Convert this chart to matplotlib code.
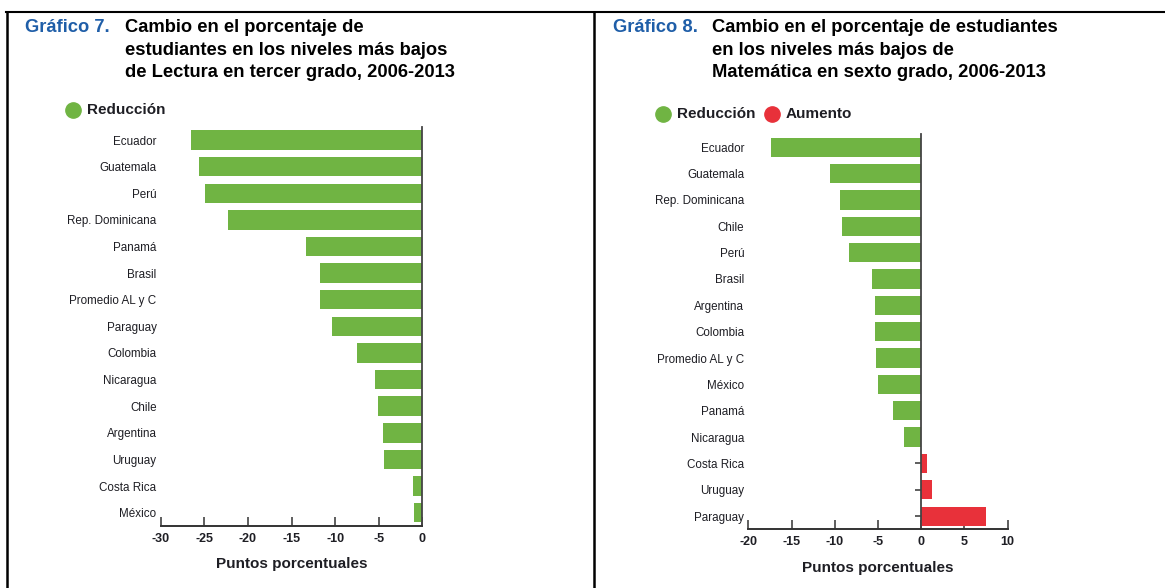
import numpy as np
import matplotlib
matplotlib.use('Agg')
import matplotlib.pyplot as plt
from matplotlib.lines import Line2D

# datos
lectura_paises = ['Ecuador', 'Guatemala', 'Perú', 'Rep. Dominicana', 'Panamá', 'Brasil',
                  'Promedio AL y C', 'Paraguay', 'Colombia', 'Nicaragua', 'Chile',
                  'Argentina', 'Uruguay', 'Costa Rica', 'México']
lectura_valores = [-26.5, -25.6, -24.9, -22.3, -13.3, -11.7, -11.7, -10.4, -7.5,
                   -5.4, -5.1, -4.5, -4.4, -1.1, -1.0]

mate_paises = ['Ecuador', 'Guatemala', 'Rep. Dominicana', 'Chile', 'Perú', 'Brasil',
               'Argentina', 'Colombia', 'Promedio AL y C', 'México', 'Panamá',
               'Nicaragua', 'Costa Rica', 'Uruguay', 'Paraguay']
mate_valores = [-17.4, -10.5, -9.4, -9.2, -8.4, -5.7, -5.4, -5.3, -5.2, -5.0,
                -3.3, -2.0, 0.7, 1.2, 7.5]

lectura_ticks = [-30, -25, -20, -15, -10, -5, 0]
mate_ticks = [-20, -15, -10, -5, 0, 5, 10]

titulo7 = ['Cambio en el porcentaje de',
           'estudiantes en los niveles más bajos',
           'de Lectura en tercer grado, 2006-2013']
titulo8 = ['Cambio en el porcentaje de estudiantes',
           'en los niveles más bajos de',
           'Matemática en sexto grado, 2006-2013']

VERDE = '#70b443'
ROJO = '#e8313a'
AZUL = '#1f5ea8'
TEXTO = '#1e1e24'

W, H = 1165, 588
plt.rcParams['font.family'] = ['Liberation Sans', 'DejaVu Sans']

fig = plt.figure(figsize=(W / 100, H / 100), dpi=100)


def px(x, y):
    # pixeles (desde arriba a la izquierda) -> coordenadas de figura
    return x / W, 1 - y / H


def barras(rect, paises, valores, xlim, ticks):
    ax = fig.add_axes(rect)
    ax.set_axisbelow(True)
    y = np.arange(len(paises))
    colores = [VERDE if v < 0 else ROJO for v in valores]
    ax.barh(y, valores, height=0.73, color=colores, zorder=1)
    ax.set_ylim(len(paises) - 0.5, -0.5)
    ax.set_xlim(*xlim)
    # primero tick_params, si no se pierden las fuentes de las etiquetas
    ax.tick_params(axis='x', direction='in', length=6.5, width=1.1, color='#333333', pad=5,
                   labelsize=9, labelcolor=TEXTO)
    ax.tick_params(axis='y', direction='in', left=False, right=True, labelleft=True,
                   labelright=False, length=4.5, width=1.1, color='#333333', pad=3,
                   labelsize=8.4, labelcolor=TEXTO)
    ax.set_yticks(y)
    labs = ax.set_yticklabels(paises, fontsize=8.4, color=TEXTO)
    for lab, p in zip(labs, paises):
        if p == 'Perú':
            lab.set_fontweight('bold')
    ax.set_xticks(ticks)
    ax.set_xticklabels([str(t) for t in ticks], fontsize=9, fontweight='bold', color=TEXTO)
    ax.spines['top'].set_visible(False)
    ax.spines['left'].set_visible(False)
    ax.spines['right'].set_position(('data', 0))
    ax.spines['right'].set_color('#444444')
    ax.spines['right'].set_linewidth(1.3)
    ax.spines['bottom'].set_color('#333333')
    ax.spines['bottom'].set_linewidth(1.4)
    ax.set_xlabel('Puntos porcentuales', fontsize=11, fontweight='bold', color=TEXTO, labelpad=9)
    return ax


# posiciones de los ejes en pixeles
x0, x1, y0, y1 = 160.7, 422.3, 126.7, 526
barras([x0 / W, 1 - y1 / H, (x1 - x0) / W, (y1 - y0) / H],
       lectura_paises, lectura_valores, (-30, 0), lectura_ticks)
x0, x1, y0, y1 = 748.3, 1007.7, 134, 529.3
barras([x0 / W, 1 - y1 / H, (x1 - x0) / W, (y1 - y0) / H],
       mate_paises, mate_valores, (-20, 10), mate_ticks)

# titulos
titfont = dict(family=['Liberation Sans', 'DejaVu Sans'], fontweight='bold', fontsize=13.2)
for xg, xt, num, lineas in [(25, 125, 'Gráfico 7.', titulo7), (613, 712, 'Gráfico 8.', titulo8)]:
    fig.text(*px(xg, 32), num, color=AZUL, va='baseline', **titfont)
    for i, l in enumerate(lineas):
        fig.text(*px(xt, 32 + i * 22.6), l, color='black', va='baseline', **titfont)

# leyendas
def punto(x, y, color, texto):
    fig.add_artist(Line2D([x / W], [1 - y / H], marker='o', markersize=11,
                          color=color, transform=fig.transFigure))
    fig.text(*px(x + 14, y), texto, fontsize=11, fontweight='bold', color=TEXTO, va='center')

punto(73, 110, VERDE, 'Reducción')
punto(663, 114, VERDE, 'Reducción')
punto(772, 114, ROJO, 'Aumento')

# marco de la tabla
def linea(xs, ys, lw=1.8):
    fig.add_artist(Line2D([x / W for x in xs], [1 - y / H for y in ys],
                          color='black', lw=lw, transform=fig.transFigure))

linea([6, W], [12, 12], lw=1.5)
linea([6.5, 6.5], [12, H])
linea([593.5, 593.5], [12, H])

fig.savefig('out.png', dpi=100)
